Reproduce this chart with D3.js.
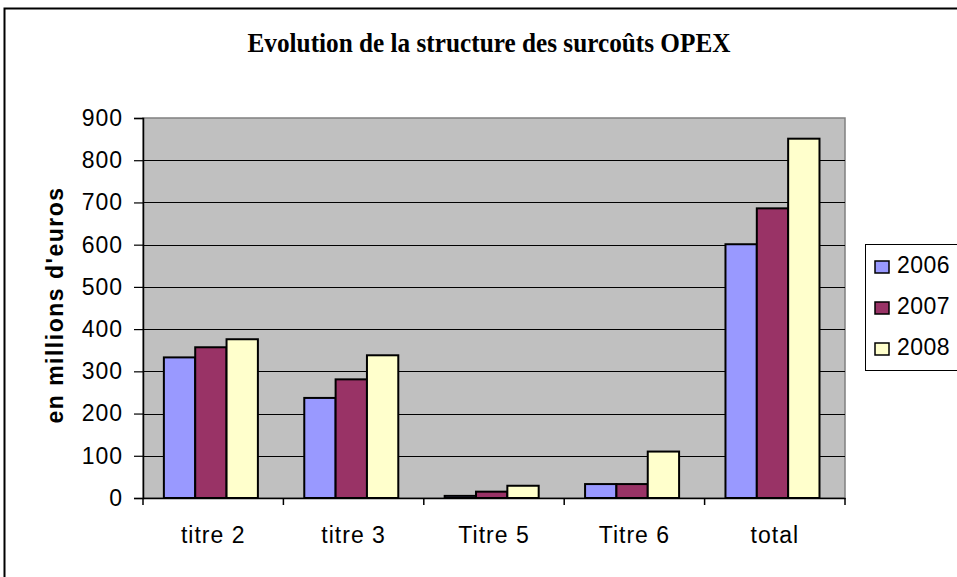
<!DOCTYPE html>
<html>
<head>
<meta charset="utf-8">
<script src="https://cdn.jsdelivr.net/npm/d3@7"></script>
<style>
  body { margin: 0; background: #fff; }
  svg { display: block; }
</style>
</head>
<body>
<div id="container"></div>
<script>
/* DATA */
const categories = ["titre 2", "titre 3", "Titre 5", "Titre 6", "total"];
const years = ["2006", "2007", "2008"];
const values2006 = [333, 237, 5, 33, 601];
const values2007 = [357, 281, 15, 33, 686];
const values2008 = [376, 338, 29, 110, 851];
const yTicks = [0, 100, 200, 300, 400, 500, 600, 700, 800, 900];
const colors = ["#9999FF", "#993366", "#FFFFCC"];

const width = 957, height = 577;
const plot = { left: 143, right: 845, top: 118, bottom: 498 };
const sans = "'Liberation Sans', Arial, sans-serif";

const svg = d3.select("#container").append("svg")
  .attr("width", width)
  .attr("height", height);

// outer chart frame (right and bottom run off the page)
svg.append("rect")
  .attr("x", 4.5).attr("y", 8.5)
  .attr("width", 970).attr("height", 600)
  .attr("fill", "#fff")
  .attr("stroke", "#000")
  .attr("stroke-width", 2);

/* SCALES */
const xScale = d3.scaleBand()
  .domain(categories)
  .range([plot.left, plot.right]);

const xInner = d3.scaleBand()
  .domain(years)
  .range([0, xScale.bandwidth()])
  .paddingOuter(0.74)
  .paddingInner(0)
  .align(0.45);

const yScale = d3.scaleLinear()
  .domain([0, 900])
  .range([plot.bottom, plot.top]);

// plot background
svg.append("rect")
  .attr("x", plot.left).attr("y", plot.top)
  .attr("width", plot.right - plot.left)
  .attr("height", plot.bottom - plot.top)
  .attr("fill", "#C0C0C0")
  .attr("stroke", "#808080")
  .attr("stroke-width", 1.5);

// gridlines
svg.append("g")
  .selectAll("line")
  .data(yTicks.filter(d => d > 0 && d < 900))
  .join("line")
  .attr("x1", plot.left).attr("x2", plot.right)
  .attr("y1", d => Math.round(yScale(d)) + 0.5)
  .attr("y2", d => Math.round(yScale(d)) + 0.5)
  .attr("stroke", "#000")
  .attr("stroke-width", 1);

/* BARS */
const series = years.map((y, i) => ({
  year: y,
  color: colors[i],
  values: [values2006, values2007, values2008][i]
}));

const groups = svg.append("g")
  .selectAll("g")
  .data(series)
  .join("g")
  .attr("fill", d => d.color);

groups.selectAll("rect")
  .data(d => d.values.map((v, j) => ({ year: d.year, cat: categories[j], value: v })))
  .join("rect")
  .attr("x", d => xScale(d.cat) + xInner(d.year))
  .attr("y", d => yScale(d.value))
  .attr("width", xInner.bandwidth())
  .attr("height", d => yScale(0) - yScale(d.value))
  .attr("stroke", "#000")
  .attr("stroke-width", 2);

/* AXES */
const yAxis = d3.axisLeft(yScale)
  .tickValues(yTicks)
  .tickSize(9)
  .tickPadding(11);
const gy = svg.append("g")
  .attr("transform", `translate(${plot.left},0)`)
  .call(yAxis);
gy.select(".domain").attr("stroke", "#000").attr("stroke-width", 1.5);
gy.selectAll(".tick line").attr("stroke-width", 1.2);
gy.selectAll("text")
  .style("font-family", sans)
  .style("font-size", "23px")
  .style("letter-spacing", "1px")
  .attr("fill", "#000");

const xAxis = d3.axisBottom(xScale)
  .tickSize(0)
  .tickPadding(29);
const gx = svg.append("g")
  .attr("transform", `translate(0,${plot.bottom})`)
  .call(xAxis);
gx.select(".domain").attr("stroke", "#000").attr("stroke-width", 1.5);
gx.selectAll("text")
  .style("font-family", sans)
  .style("font-size", "23px")
  .style("letter-spacing", "1px")
  .attr("fill", "#000");

// category separator ticks
svg.append("g")
  .selectAll("line")
  .data(categories.concat(["end"]))
  .join("line")
  .attr("x1", (d, i) => i < categories.length ? xScale(d) : plot.right)
  .attr("x2", (d, i) => i < categories.length ? xScale(d) : plot.right)
  .attr("y1", plot.bottom)
  .attr("y2", plot.bottom + 7)
  .attr("stroke", "#000")
  .attr("stroke-width", 1.5);

/* TITLES */
svg.append("text")
  .attr("x", 489)
  .attr("y", 52)
  .attr("text-anchor", "middle")
  .attr("textLength", 483)
  .attr("lengthAdjust", "spacingAndGlyphs")
  .style("font-family", "'Liberation Serif', 'Times New Roman', serif")
  .style("font-weight", "bold")
  .style("font-size", "28px")
  .text("Evolution de la structure des surcoûts OPEX");

svg.append("text")
  .attr("transform", "translate(63,305) rotate(-90)")
  .attr("text-anchor", "middle")
  .style("font-family", sans)
  .style("font-weight", "bold")
  .style("font-size", "23px")
  .style("letter-spacing", "1.5px")
  .text("en millions d'euros");

/* LEGEND */
const legend = svg.append("g").attr("transform", "translate(865,244)");
legend.append("rect")
  .attr("x", 0.5).attr("y", 0.5)
  .attr("width", 100).attr("height", 126)
  .attr("fill", "#fff")
  .attr("stroke", "#000")
  .attr("stroke-width", 1);

const items = legend.selectAll(".item")
  .data(series)
  .join("g")
  .attr("class", "item")
  .attr("transform", (d, i) => `translate(0,${23 + i * 41})`);

items.append("rect")
  .attr("x", 10).attr("y", -6)
  .attr("width", 14).attr("height", 12)
  .attr("fill", d => d.color)
  .attr("stroke", "#000")
  .attr("stroke-width", 1.5);

items.append("text")
  .attr("x", 32)
  .attr("y", 6)
  .style("font-family", sans)
  .style("font-size", "23px")
  .style("letter-spacing", "0.5px")
  .text(d => d.year);
</script>
</body>
</html>
